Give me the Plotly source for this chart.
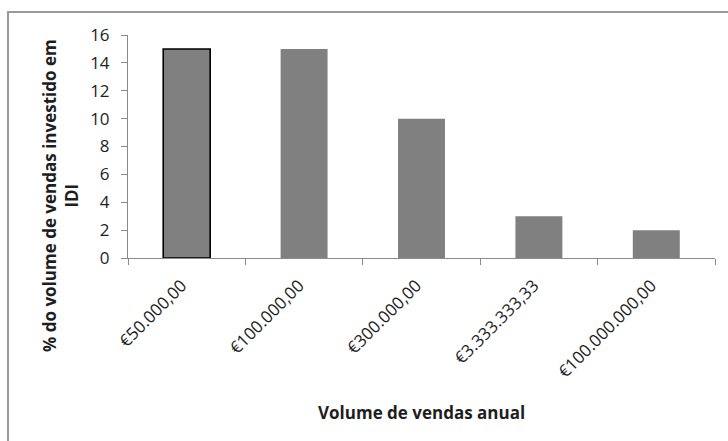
import plotly.graph_objects as go

# Annual sales volume brackets and share of sales invested in R&D&I (%)
categories = ["€50.000,00", "€100.000,00", "€300.000,00", "€3.333.333,33", "€100.000.000,00"]
values = [15, 15, 10, 3, 2]
y_ticks = [0, 2, 4, 6, 8, 10, 12, 14, 16]

y_title = "% do volume de vendas investido em<br>IDI"
x_title = "Volume de vendas anual"

W, H = 728, 441
L, R, T, B = 128, 13, 35, 183
plot_w = W - L - R
plot_h = H - T - B


def px_to_paper_x(px):
    return (px - L) / plot_w


def px_to_paper_y(py):
    return (H - B - py) / plot_h


font_family = "Open Sans, sans-serif"
axis_color = "#8a8a8a"
text_color = "#1e1e1e"

line_colors = ["#000000"] + ["#808080"] * (len(values) - 1)
line_widths = [1.6] + [0] * (len(values) - 1)

fig = go.Figure(
    go.Bar(
        x=categories,
        y=values,
        marker=dict(color="#808080", line=dict(color=line_colors, width=line_widths)),
        hoverinfo="skip",
    )
)

fig.update_layout(
    width=W,
    height=H,
    margin=dict(l=L, r=R, t=T, b=B, pad=0),
    paper_bgcolor="white",
    plot_bgcolor="white",
    bargap=0.6,
    showlegend=False,
    font=dict(family=font_family, size=17, color=text_color),
    xaxis=dict(
        type="category",
        showline=True,
        linecolor=axis_color,
        linewidth=1,
        ticks="outside",
        tickson="boundaries",
        ticklen=6,
        tickcolor=axis_color,
        tickangle=-45,
        ticklabelstandoff=10,
        ticklabelshift=-5,
        tickfont=dict(size=17, color=text_color),
        showgrid=False,
        zeroline=False,
    ),
    yaxis=dict(
        range=[0, 16],
        tickvals=y_ticks,
        showline=True,
        linecolor=axis_color,
        linewidth=1,
        ticks="outside",
        ticklen=6,
        tickcolor=axis_color,
        ticklabelstandoff=8,
        tickfont=dict(size=17, color=text_color),
        showgrid=False,
        zeroline=False,
    ),
    shapes=[
        # chart frame (top and left edges)
        dict(
            type="rect",
            xref="paper",
            yref="paper",
            x0=px_to_paper_x(8),
            x1=px_to_paper_x(760),
            y0=px_to_paper_y(470),
            y1=px_to_paper_y(12),
            line=dict(color="#999999", width=2),
            fillcolor="rgba(0,0,0,0)",
            layer="below",
        )
    ],
    annotations=[
        dict(
            text=f"<b>{y_title}</b>",
            xref="paper",
            yref="paper",
            x=px_to_paper_x(60),
            y=px_to_paper_y(196),
            xanchor="center",
            yanchor="middle",
            textangle=-90,
            showarrow=False,
            font=dict(size=17, color=text_color, family=font_family),
        ),
        dict(
            text=f"<b>{x_title}</b>",
            xref="paper",
            yref="paper",
            x=px_to_paper_x(421),
            y=px_to_paper_y(412),
            xanchor="center",
            yanchor="middle",
            showarrow=False,
            font=dict(size=17, color=text_color, family=font_family),
        ),
    ],
)

fig.write_html("out.html")
